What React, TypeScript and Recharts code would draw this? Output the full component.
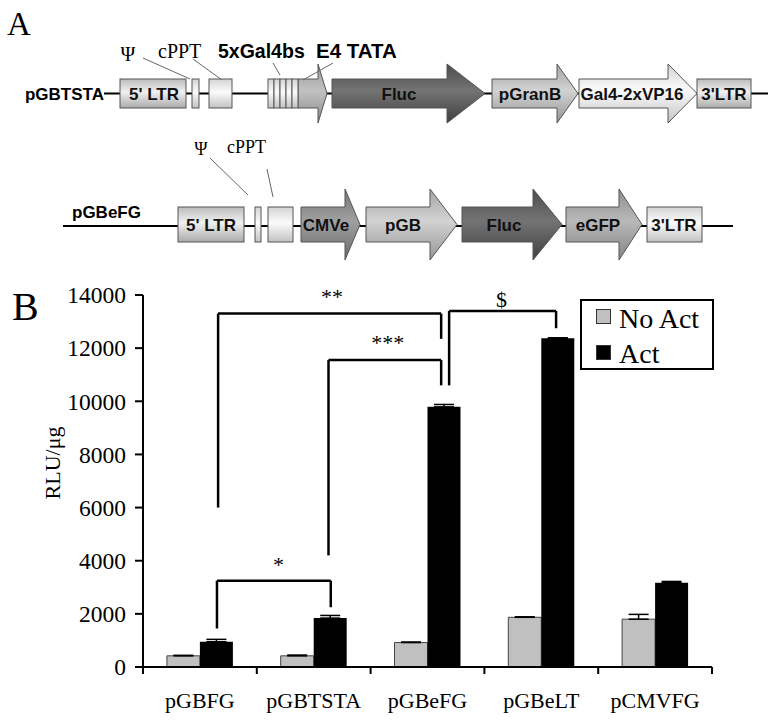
import React from 'react';
import { BarChart, Bar, XAxis, YAxis, ErrorBar, Legend, ReferenceLine, ReferenceDot } from 'recharts';

const SERIF = '"Liberation Serif", "Times New Roman", serif';
const SANS = '"Liberation Sans", Arial, sans-serif';

const categories = ['pGBFG', 'pGBTSTA', 'pGBeFG', 'pGBeLT', 'pCMVFG'];
const noActValues = [420, 420, 920, 1870, 1800];
const actValues = [950, 1840, 9790, 12370, 3170];
const noActErrors = [20, 30, 20, 20, 180];
const actErrors = [90, 100, 90, 20, 50];
const yTicks = [0, 2000, 4000, 6000, 8000, 10000, 12000, 14000];

// significance brackets; x is in category units (0..5 across the x axis)
const bracketLabels = ['**', '***', '$', '*'];
const bracketLeftX = [0.66, 1.63, 2.69, 0.65];
const bracketRightX = [2.62, 2.62, 3.63, 1.65];
const bracketTopY = [13300, 11550, 13400, 3250];
const bracketLeftEndY = [6000, 4200, 10600, 1450];
const bracketRightEndY = [12350, 10600, 12750, 2250];
const bracketLabelX = [1.66, 2.15, 3.15, 1.19];
const bracketLabelY = [13960, 12230, 13850, 3880];

const data = categories.map((name, i) => ({
  name,
  slot: i + 0.5,
  noAct: noActValues[i],
  act: actValues[i],
  noActErr: [0, noActErrors[i]],
  actErr: [0, actErrors[i]],
}));

// ---- panel A construct diagram ----
const tones: Record<string, string[]> = {
  ltr: ['#bcbcbc', '#f0f0f0', '#aaaaaa'],
  pale: ['#d4d4d4', '#fbfbfb', '#c2c2c2'],
  mid: ['#a4a4a4', '#d2d2d2', '#959595'],
  egfp: ['#8f8f8f', '#b8b8b8', '#858585'],
  cmv: ['#767676', '#a0a0a0', '#6a6a6a'],
  dark: ['#4c4c4c', '#747474', '#404040'],
  tata: ['#989898', '#c2c2c2', '#8a8a8a'],
};

type Part = { kind: 'box' | 'arrow' | 'stripes'; x0: number; x1: number; tip?: number; text?: string; tx?: number; tone: string };

const row1: Part[] = [
  { kind: 'box', x0: 120, x1: 186, text: "5' LTR", tx: 154, tone: 'ltr' },
  { kind: 'box', x0: 192, x1: 199, tone: 'pale' },
  { kind: 'box', x0: 209, x1: 232, tone: 'pale' },
  { kind: 'arrow', x0: 298, x1: 318, tip: 327, tone: 'tata' },
  { kind: 'stripes', x0: 268, x1: 298, tone: 'pale' },
  { kind: 'arrow', x0: 332, x1: 447, tip: 485, text: 'Fluc', tx: 399, tone: 'dark' },
  { kind: 'arrow', x0: 492, x1: 557, tip: 578, text: 'pGranB', tx: 530, tone: 'mid' },
  { kind: 'arrow', x0: 579, x1: 668, tip: 697, text: 'Gal4-2xVP16', tx: 632, tone: 'pale' },
  { kind: 'box', x0: 697, x1: 751, text: "3'LTR", tx: 724, tone: 'ltr' },
];

const row2: Part[] = [
  { kind: 'box', x0: 178, x1: 244, text: "5' LTR", tx: 211, tone: 'ltr' },
  { kind: 'box', x0: 255, x1: 261, tone: 'pale' },
  { kind: 'box', x0: 268, x1: 293, tone: 'pale' },
  { kind: 'arrow', x0: 301, x1: 345, tip: 360, text: 'CMVe', tx: 326, tone: 'cmv' },
  { kind: 'arrow', x0: 366, x1: 430, tip: 457, text: 'pGB', tx: 403, tone: 'mid' },
  { kind: 'arrow', x0: 462, x1: 533, tip: 562, text: 'Fluc', tx: 504, tone: 'dark' },
  { kind: 'arrow', x0: 566, x1: 619, tip: 642, text: 'eGFP', tx: 598, tone: 'egfp' },
  { kind: 'box', x0: 647, x1: 702, text: "3'LTR", tx: 674, tone: 'pale' },
];

function PartShape({ p, cy, bh, hh, fs }: { p: Part; cy: number; bh: number; hh: number; fs: number }) {
  const fill = `url(#g-${p.tone})`;
  let shape: React.ReactNode;
  if (p.kind === 'arrow') {
    const pts = [
      [p.x0, cy - bh], [p.x1, cy - bh], [p.x1, cy - hh], [p.tip, cy],
      [p.x1, cy + hh], [p.x1, cy + bh], [p.x0, cy + bh],
    ].map((q) => q.join(',')).join(' ');
    shape = <polygon points={pts} fill={fill} stroke="#555" strokeWidth={1} />;
  } else if (p.kind === 'stripes') {
    const n = 5;
    const w = (p.x1 - p.x0) / n;
    shape = (
      <g>
        {Array.from({ length: n }, (_, i) => (
          <rect key={i} x={p.x0 + i * w} y={cy - bh} width={w} height={bh * 2} fill={fill} stroke="#555" strokeWidth={1} />
        ))}
      </g>
    );
  } else {
    shape = <rect x={p.x0} y={cy - bh} width={p.x1 - p.x0} height={bh * 2} fill={fill} stroke="#555" strokeWidth={1} />;
  }
  return (
    <g>
      {shape}
      {p.text && (
        <text x={p.tx} y={cy + fs * 0.36} textAnchor="middle" fontFamily={SANS} fontWeight="bold" fontSize={fs} fill="#111">
          {p.text}
        </text>
      )}
    </g>
  );
}

function Diagram() {
  const cy1 = 93.5;
  const cy2 = 224.5;
  return (
    <svg width={782} height={270} style={{ position: 'absolute', left: 0, top: 0 }}>
      <defs>
        {Object.entries(tones).map(([k, c]) => (
          <linearGradient key={k} id={`g-${k}`} x1="0" y1="0" x2="0" y2="1">
            <stop offset="0%" stopColor={c[0]} />
            <stop offset="45%" stopColor={c[1]} />
            <stop offset="100%" stopColor={c[2]} />
          </linearGradient>
        ))}
      </defs>
      <text x={7} y={35} fontFamily={SERIF} fontSize={33} fill="#000">A</text>

      {/* row 1 */}
      <line x1={104} y1={cy1} x2={768} y2={cy1} stroke="#000" strokeWidth={2} />
      <text x={104} y={cy1 + 6} textAnchor="end" fontFamily={SANS} fontWeight="bold" fontSize={17}>pGBTSTA</text>
      {row1.map((p, i) => <PartShape key={i} p={p} cy={cy1} bh={14.5} hh={29.5} fs={17} />)}
      <line x1={143} y1={58} x2={190} y2={79} stroke="#666" strokeWidth={1} />
      <line x1={193} y1={59} x2={222} y2={80} stroke="#666" strokeWidth={1} />
      <line x1={273} y1={63} x2={280} y2={75} stroke="#666" strokeWidth={1} />
      <line x1={333} y1={63} x2={303} y2={80} stroke="#666" strokeWidth={1} />
      <text x={128} y={61} textAnchor="middle" fontFamily={SERIF} fontSize={20}>Ψ</text>
      <text x={158} y={58} fontFamily={SERIF} fontSize={20}>cPPT</text>
      <text x={218} y={58} fontFamily={SANS} fontWeight="bold" fontSize={19.5}>5xGal4bs</text>
      <text x={316} y={58} fontFamily={SANS} fontWeight="bold" fontSize={20.5}>E4 TATA</text>

      {/* row 2 */}
      <line x1={63} y1={226} x2={733} y2={226} stroke="#000" strokeWidth={2} />
      <text x={72} y={218} fontFamily={SANS} fontWeight="bold" fontSize={17}>pGBeFG</text>
      {row2.map((p, i) => <PartShape key={i} p={p} cy={cy2} bh={17.5} hh={35.5} fs={17} />)}
      <line x1={210} y1={158} x2={248} y2={195} stroke="#666" strokeWidth={1} />
      <line x1={267} y1={169} x2={273} y2={197} stroke="#666" strokeWidth={1} />
      <text x={201} y={155} textAnchor="middle" fontFamily={SERIF} fontSize={18}>Ψ</text>
      <text x={227} y={153} fontFamily={SERIF} fontSize={18}>cPPT</text>
    </svg>
  );
}

// ---- panel B chart ----
function CategoryTick(props: any) {
  const { x, y, payload, index } = props;
  const half = payload && payload.offset ? payload.offset : 56.9;
  const last = index === categories.length - 1;
  return (
    <g>
      <line x1={x - half} x2={x - half} y1={y} y2={y + 7} stroke="#000" strokeWidth={2} />
      {last && <line x1={x + half} x2={x + half} y1={y} y2={y + 7} stroke="#000" strokeWidth={2} />}
      <text x={x} y={y + 41} textAnchor="middle" fontFamily={SERIF} fontSize={22} fill="#000">
        {payload.value}
      </text>
    </g>
  );
}

function YAxisTitle(props: any) {
  const vb = props.viewBox || { x: 63, y: 295, width: 80, height: 372 };
  const cx = vb.x - 11;
  const cy = vb.y + vb.height / 2 - 18;
  return (
    <text x={cx} y={cy} transform={`rotate(-90, ${cx}, ${cy})`} textAnchor="middle" dominantBaseline="central"
      fontFamily={SERIF} fontSize={22} fill="#000">
      RLU/μg
    </text>
  );
}

function LegendBox(props: any) {
  const payload = props.payload || [];
  const order = ['noAct', 'act'];
  const items = order.map((k) => payload.find((e: any) => e.dataKey === k)).filter(Boolean);
  return (
    <svg width={134} height={71}>
      <rect x={1} y={1} width={132} height={69} fill="#fff" stroke="#000" strokeWidth={2} />
      {items.map((entry: any, i: number) => (
        <g key={entry.value}>
          <rect x={16.5} y={10.5 + i * 36} width={14} height={14} fill={entry.color} stroke="#333" strokeWidth={1} />
          <text x={39} y={29 + i * 34.5} fontFamily={SERIF} fontSize={28} fill="#000">{entry.value}</text>
        </g>
      ))}
    </svg>
  );
}

export default function App() {
  const lineStyle = { stroke: '#000', strokeWidth: 2.5 };
  return (
    <div style={{ position: 'absolute', left: 0, top: 0, width: 782, height: 723, background: '#fff' }}>
      <Diagram />
      <div style={{ position: 'absolute', left: 12, top: 287, fontFamily: SERIF, fontSize: 40, lineHeight: '40px' }}>B</div>
      <div style={{ position: 'absolute', left: 0, top: 0 }}>
        <BarChart width={782} height={723} data={data} margin={{ top: 295, right: 70, bottom: 0, left: 63 }}
          barCategoryGap="21%" barGap={0}>
          <XAxis dataKey="name" height={56} interval={0} tickSize={0} tickMargin={0} tickLine={false}
            axisLine={{ stroke: '#000', strokeWidth: 2 }} tick={<CategoryTick />} />
          <XAxis xAxisId="b" dataKey="slot" type="number" domain={[0, 5]} allowDataOverflow hide />
          <YAxis domain={[0, 14000]} ticks={yTicks} interval={0} width={80} tickSize={8} tickMargin={9}
            axisLine={{ stroke: '#000', strokeWidth: 2 }} tickLine={{ stroke: '#000', strokeWidth: 2 }}
            tick={{ fill: '#000', fontSize: 23.5, fontFamily: SERIF }} label={<YAxisTitle />} />
          <Legend layout="horizontal" align="center" verticalAlign="middle" content={<LegendBox />}
            wrapperStyle={{ left: 580, top: 299, width: 134, height: 71 }} />
          <Bar dataKey="noAct" name="No Act" fill="#c0c0c0" stroke="#444" strokeWidth={1} isAnimationActive={false}>
            <ErrorBar dataKey="noActErr" direction="y" width={10} stroke="#000" strokeWidth={1.5} />
          </Bar>
          <Bar dataKey="act" name="Act" fill="#000" isAnimationActive={false}>
            <ErrorBar dataKey="actErr" direction="y" width={10} stroke="#000" strokeWidth={1.5} />
          </Bar>
          {bracketLabels.flatMap((lab, i) => [
            <ReferenceLine key={`l${i}`} xAxisId="b" {...lineStyle}
              segment={[{ x: bracketLeftX[i], y: bracketLeftEndY[i] }, { x: bracketLeftX[i], y: bracketTopY[i] }]} />,
            <ReferenceLine key={`t${i}`} xAxisId="b" {...lineStyle}
              segment={[{ x: bracketLeftX[i], y: bracketTopY[i] }, { x: bracketRightX[i], y: bracketTopY[i] }]} />,
            <ReferenceLine key={`r${i}`} xAxisId="b" {...lineStyle}
              segment={[{ x: bracketRightX[i], y: bracketTopY[i] }, { x: bracketRightX[i], y: bracketRightEndY[i] }]} />,
            <ReferenceDot key={`d${i}`} xAxisId="b" x={bracketLabelX[i]} y={bracketLabelY[i]} r={0}
              fill="none" stroke="none"
              label={{ value: lab, position: 'center', fill: '#000', fontSize: 22, fontFamily: SERIF }} />,
          ])}
        </BarChart>
      </div>
    </div>
  );
}
